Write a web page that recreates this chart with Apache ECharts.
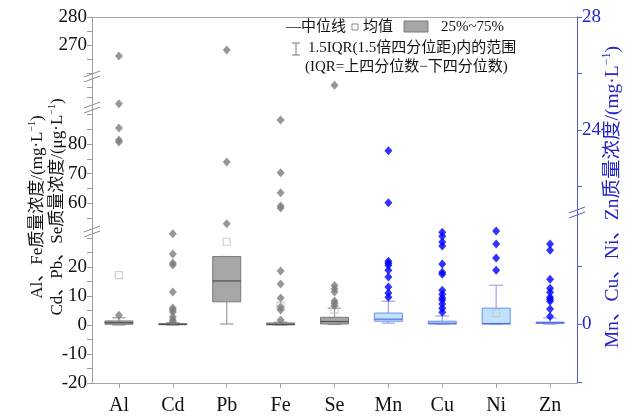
<!DOCTYPE html>
<html><head><meta charset="utf-8">
<script src="https://cdn.jsdelivr.net/npm/echarts@6/dist/echarts.min.js"></script>
<style>html,body{margin:0;padding:0;background:#fff}#c{width:633px;height:416px}</style>
</head><body><div id="c"></div>
<script>
// ---------- data ----------
const categories = ['Al','Cd','Pb','Fe','Se','Mn','Cu','Ni','Zn'];
const leftCats  = ['Al','Cd','Pb','Fe','Se'];
const rightCats = ['Mn','Cu','Ni','Zn'];
// box stats: [lower whisker, Q1, median, Q3, upper whisker]
const boxAl = [0, 0.25, 0.8, 1.4, 2.5];
const boxCd = [0, 0.1, 0.2, 0.5, 0.8];
const boxPb = [0.35, 8.0, 15.2, 23.6, 23.6];
const boxFe = [0, 0.05, 0.2, 0.7, 1.0];
const boxSe = [0.2, 0.35, 1.2, 2.65, 5.8];
const boxMn = [0.03, 0.10, 0.17, 0.38, 0.79];
const boxCu = [0, 0.0, 0.03, 0.10, 0.28];
const boxNi = [0, 0, 0.02, 0.55, 1.34];
const boxZn = [0, 0.02, 0.05, 0.07, 0.21];
// outliers
const outAl = [3.4, 80.7, 81.4, 85.4, 120, 266.1];
const outCd = [1.1, 1.7, 2.8, 4.5, 5.2, 5.9, 11.4, 20.7, 21.4, 24.5, 31.5];
const outPb = [53.0, 73.9, 268.2];
const outFe = [1.7, 5.2, 6.2, 9.3, 14.1, 18.6, 58.3, 59.0, 63.5, 70.3, 88.1];
const outSe = [6.6, 7.5, 8.3, 11.4, 12.4, 13.6, 210];
const outMn = [0.93, 1.07, 1.28, 1.62, 1.86, 2.03, 2.10, 2.17, 21.42, 23.26];
const outCu = [0.41, 0.55, 0.69, 0.83, 0.90, 1.03, 1.17, 1.72, 1.79, 2.07, 2.69, 2.83, 3.03, 3.17];
const outNi = [1.86, 2.28, 2.76, 3.21];
const outZn = [0.26, 0.52, 0.79, 0.86, 0.93, 1.10, 1.24, 1.55, 2.55, 2.76];
// means (visible ones)
const meanCats = ['Al','Pb','Fe','Se','Ni'];
const meanVals = [17.2, 28.7, 6.6, 5.2, 0.38];
// axis ticks / labels per segment
const ticksA = [260, 265, 270, 275, 280], labelsA = [270, 280];
const ticksB = [150, 200],               labelsB = [];
const ticksC = [55, 60, 65, 70, 75, 80, 85, 90], labelsC = [60, 70, 80];
const ticksD = [-20, -15, -10, -5, 0, 5, 10, 15, 20, 25, 30], labelsD = [-20, -10, 0, 10, 20];
const ticksE = [22, 24, 26, 28], labelsE = [24, 28];
const ticksF = [-2, 0, 2],       labelsF = [0];

// ---------- layout ----------
const FONT = '"Liberation Serif","Noto Sans CJK SC",serif';
const GL = 92, GR = 56;
const segs = [
  {id:'A', side:'left',  top:17,  height:60,  min:258.6, max:280,   ticks:ticksA, labels:labelsA},
  {id:'B', side:'left',  top:77,  height:31,  min:100,   max:250,   ticks:ticksB, labels:labelsB},
  {id:'C', side:'left',  top:108, height:124, min:50.2,  max:92.2,  ticks:ticksC, labels:labelsC},
  {id:'D', side:'left',  top:232, height:151, min:-20,   max:32.07, ticks:ticksD, labels:labelsD},
  {id:'E', side:'right', top:17,  height:196, min:21.06, max:28,    ticks:ticksE, labels:labelsE},
  {id:'F', side:'right', top:213, height:170, min:-2.03, max:3.83,  ticks:ticksF, labels:labelsF}
];
const boxes = {Al:boxAl, Cd:boxCd, Pb:boxPb, Fe:boxFe, Se:boxSe, Mn:boxMn, Cu:boxCu, Ni:boxNi, Zn:boxZn};
const outs  = {Al:outAl, Cd:outCd, Pb:outPb, Fe:outFe, Se:outSe, Mn:outMn, Cu:outCu, Ni:outNi, Zn:outZn};

const LEFT_STYLE  = {fill:'#a6a6a6', stroke:'#7a7a7a', median:'#505050', whisker:'#a3a3a3', out:'#7d7d7d'};
const RIGHT_STYLE = {fill:'#bfe3ff', stroke:'#6c8cf0', median:'#5a6ad8', whisker:'#a4aaec', out:'#0000ff'};

const grids = [], xAxes = [], yAxes = [], series = [];
segs.forEach((s, i) => {
  grids.push({left: GL, right: GR, top: s.top, height: s.height});
  const isBottom = s.id === 'D', isTop = s.id === 'A';
  xAxes.push({
    type:'category', gridIndex:i, data:categories, position: isTop ? 'top' : 'bottom',
    show: isBottom || isTop,
    axisLine:{show:true, onZero:false, lineStyle:{color:'#a8a8a8', width:1}},
    axisTick:{show:isBottom, alignWithLabel:true, length:5, lineStyle:{color:'#a8a8a8'}},
    axisLabel:{show:isBottom, fontFamily:FONT, fontSize:20, color:'#111', margin:13},
    splitLine:{show:false}
  });
  const col = s.side === 'left' ? '#9c9c9c' : '#5a5ac4';
  yAxes.push({
    type:'value', gridIndex:i, position:s.side, min:s.min, max:s.max,
    axisLine:{show:true, onZero:false, lineStyle:{color:col, width:1}},
    axisTick:{show:true, length:5, customValues:s.ticks, lineStyle:{color:col}},
    axisLabel:{show:s.labels.length > 0, customValues:s.labels, fontFamily:FONT, fontSize:19,
               color: s.side === 'left' ? '#111' : '#2424c8', margin:5},
    splitLine:{show:false}
  });
  const cats = s.side === 'left' ? leftCats : rightCats;
  const st = s.side === 'left' ? LEFT_STYLE : RIGHT_STYLE;
  if (s.id === 'D' || s.id === 'F') {
    series.push({
      type:'custom', xAxisIndex:i, yAxisIndex:i, z:2,
      data: cats.map(c => [categories.indexOf(c)].concat(boxes[c])),
      encode:{x:0, y:[1,2,3,4,5]},
      renderItem: function (params, api) {
        const ci = api.value(0);
        const lo = api.coord([ci, api.value(1)]);
        const q1 = api.coord([ci, api.value(2)]);
        const md = api.coord([ci, api.value(3)]);
        const q3 = api.coord([ci, api.value(4)]);
        const hi = api.coord([ci, api.value(5)]);
        const bw = api.size([1, 0])[0];
        const w = bw * 0.52, cw = bw * 0.25, x = lo[0];
        const ws = {stroke: st.whisker, lineWidth: 1.3};
        return {type:'group', children:[
          {type:'line', shape:{x1:x, y1:hi[1], x2:x, y2:q3[1]}, style:ws},
          {type:'line', shape:{x1:x, y1:lo[1], x2:x, y2:q1[1]}, style:ws},
          {type:'line', shape:{x1:x-cw/2, y1:hi[1], x2:x+cw/2, y2:hi[1]}, style:ws},
          {type:'line', shape:{x1:x-cw/2, y1:lo[1], x2:x+cw/2, y2:lo[1]}, style:ws},
          {type:'rect', shape:{x:x-w/2, y:q3[1], width:w, height:Math.max(q1[1]-q3[1], 1)},
           style:{fill:st.fill, stroke:st.stroke, lineWidth:1}},
          {type:'line', shape:{x1:x-w/2, y1:md[1], x2:x+w/2, y2:md[1]}, style:{stroke:st.median, lineWidth:1.2}}
        ]};
      }
    });
  }
  const md = [];
  meanCats.forEach((c, k) => {
    if (cats.indexOf(c) >= 0 && meanVals[k] >= s.min && meanVals[k] <= s.max)
      md.push([categories.indexOf(c), meanVals[k]]);
  });
  if (md.length) series.push({
    type:'scatter', xAxisIndex:i, yAxisIndex:i, z:3, symbol:'rect', symbolSize:7, data:md,
    itemStyle:{color:'rgba(255,255,255,0)', borderColor:'#c4c4c4', borderWidth:1.2}
  });
  const od = [];
  cats.forEach(c => outs[c].forEach(v => {
    if (v >= s.min && v <= s.max) od.push([categories.indexOf(c), v]);
  }));
  if (od.length) series.push({
    type:'scatter', xAxisIndex:i, yAxisIndex:i, z:4, symbol:'diamond', symbolSize:[8, 9], data:od,
    itemStyle:{color:st.out}
  });
});

// ---------- decorations ----------
function breakMark(x, y, color) {
  return {type:'group', z:100, children:[
    {type:'polygon', shape:{points:[[x-8, y+2], [x+8, y-4], [x+8, y+1], [x-8, y+7]]}, style:{fill:'#fff'}},
    {type:'line', shape:{x1:x-8, y1:y+2, x2:x+8, y2:y-4}, style:{stroke:color, lineWidth:1}},
    {type:'line', shape:{x1:x-8, y1:y+7, x2:x+8, y2:y+1}, style:{stroke:color, lineWidth:1}}
  ]};
}
function vTitle(x, y, main, color, size) {
  return {type:'text', x:x, y:y, rotation:Math.PI/2, z:50, style:{
    text:'{a|' + main + '}{s|−1}{a|)}', align:'center', verticalAlign:'middle',
    rich:{a:{fontFamily:FONT, fontSize:size, fill:color, lineHeight:size + 4},
          s:{fontFamily:FONT, fontSize:Math.round(size * 0.6), fill:color, verticalAlign:'top', lineHeight:Math.round(size * 0.75)}}}};
}
const W = 633;
const LF = '15px ' + FONT;
const graphics = [
  breakMark(GL, segs[1].top - 2, '#8c8c8c'),
  breakMark(GL, segs[2].top - 2, '#8c8c8c'),
  breakMark(GL, segs[3].top - 2, '#8c8c8c'),
  breakMark(W - GR, segs[5].top - 2, '#5a5ac4'),
  vTitle(38, 207, 'Al、Fe质量浓度/(mg·L', '#111', 17),
  vTitle(58, 207, 'Cd、Pb、Se质量浓度/(μg·L', '#111', 17),
  vTitle(613, 197, 'Mn、Cu、Ni、Zn质量浓度/(mg·L', '#2424c8', 19.5),
  // legend
  {type:'text', x:286, y:27, z:50, style:{text:'—中位线', font:LF, fill:'#111', verticalAlign:'middle'}},
  {type:'rect', z:50, shape:{x:352, y:24, width:6, height:6}, style:{fill:'#fff', stroke:'#8a8a8a', lineWidth:1}},
  {type:'text', x:363, y:27, z:50, style:{text:'均值', font:LF, fill:'#111', verticalAlign:'middle'}},
  {type:'rect', z:50, shape:{x:404, y:21, width:24, height:11}, style:{fill:'#a6a6a6', stroke:'#7a7a7a', lineWidth:1}},
  {type:'text', x:441, y:27, z:50, style:{text:'25%~75%', font:LF, fill:'#111', verticalAlign:'middle'}},
  {type:'line', z:50, shape:{x1:296, y1:43, x2:296, y2:55}, style:{stroke:'#777', lineWidth:1}},
  {type:'line', z:50, shape:{x1:292, y1:43, x2:300, y2:43}, style:{stroke:'#777', lineWidth:1}},
  {type:'line', z:50, shape:{x1:292, y1:55, x2:300, y2:55}, style:{stroke:'#777', lineWidth:1}},
  {type:'text', x:308, y:48, z:50, style:{text:'1.5IQR(1.5倍四分位距)内的范围', font:LF, fill:'#111', verticalAlign:'middle'}},
  {type:'text', x:305, y:67, z:50, style:{text:'(IQR=上四分位数−下四分位数)', font:LF, fill:'#111', verticalAlign:'middle'}}
];

const chart = echarts.init(document.getElementById('c'));
chart.setOption({
  animation:false, backgroundColor:'#fff',
  grid:grids, xAxis:xAxes, yAxis:yAxes, series:series, graphic:graphics
});
</script></body></html>
